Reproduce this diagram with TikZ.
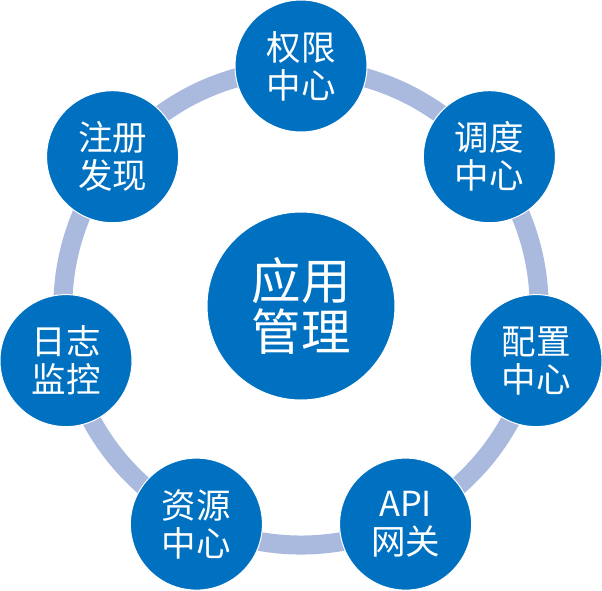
\documentclass[tikz,border=0pt]{standalone}
\usepackage{fontspec}
\newfontfamily\cjk{Noto Sans CJK SC}
\usetikzlibrary{backgrounds}
\definecolor{nodeblue}{RGB}{0,112,192}
\definecolor{ringblue}{RGB}{170,185,222}
\begin{document}
\begin{tikzpicture}[x=1pt,y=-1pt,
  outer/.style={circle, fill=nodeblue, draw=white, line width=1pt,
    minimum size=132pt, inner sep=0pt, text=white, align=center,
    font=\cjk\fontsize{34.5}{38}\selectfont},
  hub/.style={circle, fill=nodeblue, draw=white, line width=1pt,
    minimum size=188pt, inner sep=0pt, text=white, align=center,
    font=\cjk\fontsize{49.5}{51}\selectfont},
  ring/.style={draw=ringblue, line width=19pt}]
\useasboundingbox (0,0) rectangle (602,590);
\node[hub] (hub) at (301,306) {应用\\管理};
\node[outer] (n1) at (301,66) {权限\\中心};
\node[outer] (n2) at (489.4,156.7) {调度\\中心};
\node[outer] (n3) at (536,360.6) {配置\\中心};
\node[outer] (n4) at (405.6,524.1) {API\\网关};
\node[outer] (n5) at (196.4,524.1) {资源\\中心};
\node[outer] (n6) at (66,360.6) {日志\\监控};
\node[outer] (n7) at (112.6,156.7) {注册\\发现};
\begin{pgfonlayer}{background}
\draw[ring] (n1.center) to[bend left=20] (n2.center);
\draw[ring] (n2.center) to[bend left=20] (n3.center);
\draw[ring] (n3.center) to[bend left=20] (n4.center);
\draw[ring] (n4.center) to[bend left=20] (n5.center);
\draw[ring] (n5.center) to[bend left=20] (n6.center);
\draw[ring] (n6.center) to[bend left=20] (n7.center);
\draw[ring] (n7.center) to[bend left=20] (n1.center);
\end{pgfonlayer}
\end{tikzpicture}
\end{document}
